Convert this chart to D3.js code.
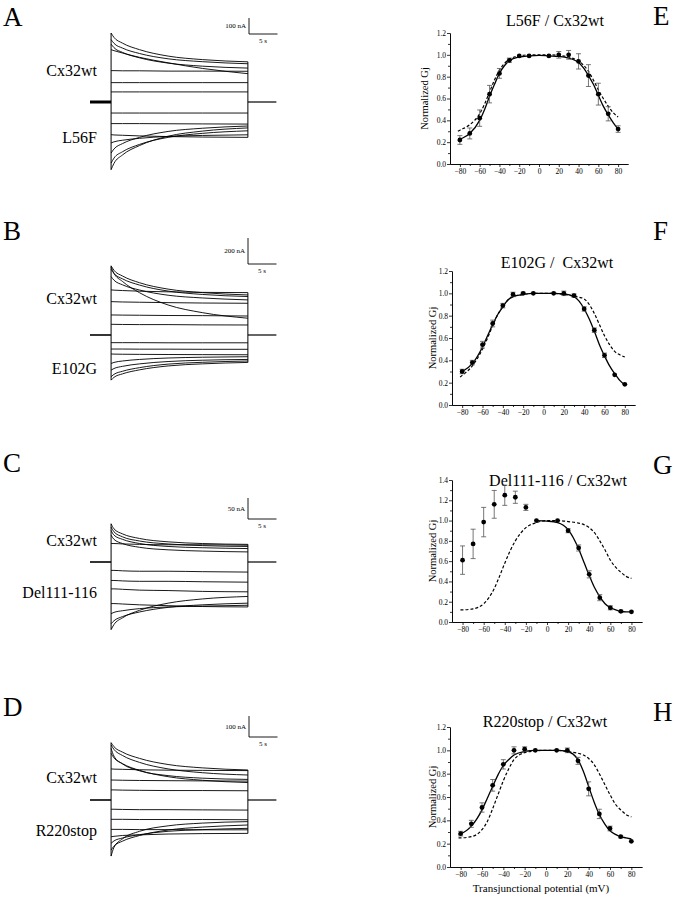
<!DOCTYPE html>
<html><head><meta charset="utf-8">
<script src="https://cdn.jsdelivr.net/npm/d3@7"></script>
<style>body{margin:0;background:#fff}svg{display:block}</style>
</head><body><svg id="c" width="681" height="900"></svg>
<script>
// ---------- DATA ----------
// Left: current traces (nA) sampled at these times (s) into a 24 s pulse
const traceTimes = [0, 0.5, 2, 5, 10, 16, 24];
const pulseDuration = 24;
const scaleBarNA = [100, 200, 50, 100];
const scaleBarSec = 5;
const mutantNames = ["L56F", "E102G", "Del111-116", "R220stop"];
const wtName = "Cx32wt";
const tracesA = [
  [431, 404, 368, 327, 287, 265, 251],
  [390, 367, 337, 303, 270, 252, 239],
  [362, 340, 310, 276, 243, 224, 212],
  [327, 321, 306, 279, 245, 210, 177],
  [196, 196, 195, 195, 193, 193, 192],
  [121, 121, 121, 121, 121, 121, 121],
  [63, 63, 63, 63, 63, 63, 63],
  [-69, -69, -69, -69, -69, -69, -69],
  [-135, -135, -135, -135, -136, -137, -138],
  [-204, -206, -208, -212, -216, -219, -221],
  [-256, -249, -239, -227, -215, -209, -205],
  [-319, -294, -260, -221, -184, -164, -150],
  [-382, -351, -311, -265, -221, -196, -180],
  [-423, -384, -331, -272, -214, -182, -162]
];
const tracesB = [
  [532, 498, 454, 402, 353, 326, 308],
  [506, 474, 432, 384, 338, 312, 296],
  [522, 475, 412, 325, 231, 172, 129],
  [449, 422, 386, 346, 306, 285, 270],
  [347, 345, 342, 337, 332, 328, 326],
  [257, 256, 254, 252, 249, 246, 244],
  [154, 154, 153, 152, 150, 149, 146],
  [82, 82, 81, 80, 80, 78, 77],
  [-59, -59, -59, -59, -60, -60, -60],
  [-108, -108, -108, -109, -109, -110, -110],
  [-146, -147, -148, -149, -150, -151, -152],
  [-219, -211, -200, -188, -177, -171, -167],
  [-270, -258, -241, -222, -204, -194, -188],
  [-321, -303, -279, -251, -224, -210, -200],
  [-347, -326, -299, -268, -238, -222, -211]
];
const tracesC = [
  [91, 79, 67, 56, 48, 44, 42],
  [83, 72, 60, 50, 43, 39, 37],
  [75, 64, 54, 44, 37, 34, 32],
  [64, 54, 44, 35, 29, 26, 24],
  [44, 44, 43, 42, 41, 41, 40],
  [-20, -20, -21, -22, -22, -23, -24],
  [-44, -44, -45, -46, -46, -47, -48],
  [-64, -64, -65, -67, -68, -70, -71],
  [-99, -99, -100, -102, -104, -106, -107],
  [-123, -120, -116, -111, -107, -105, -103],
  [-147, -140, -130, -119, -108, -102, -98],
  [-161, -149, -133, -115, -98, -88, -82]
];
const tracesD = [
  [273, 254, 228, 198, 169, 153, 143],
  [262, 241, 212, 179, 148, 130, 119],
  [246, 209, 172, 139, 116, 104, 98],
  [222, 201, 173, 141, 111, 94, 83],
  [148, 147, 146, 144, 142, 141, 140],
  [95, 95, 94, 93, 92, 91, 90],
  [48, 48, 47, 46, 45, 45, 44],
  [-44, -44, -45, -46, -46, -47, -48],
  [-92, -92, -92, -93, -93, -93, -94],
  [-140, -140, -140, -141, -141, -142, -142],
  [-175, -173, -169, -166, -162, -160, -159],
  [-206, -195, -181, -165, -149, -141, -135],
  [-238, -220, -196, -169, -143, -129, -119],
  [-267, -226, -185, -149, -123, -110, -103]
];

// Right: normalized Gj vs transjunctional potential
const vj = [-80, -70, -60, -50, -40, -30, -20, -10, 10, 20, 30, 40, 50, 60, 70, 80];
const gjE = [0.22, 0.28, 0.42, 0.64, 0.83, 0.95, 0.99, 0.99, 0.99, 1.0, 1.0, 0.94, 0.81, 0.64, 0.46, 0.32];
const errE = [0.04, 0.05, 0.075, 0.08, 0.045, 0.02, 0, 0, 0, 0.03, 0.04, 0.07, 0.1, 0.1, 0.065, 0.03];
const gjF = [0.30, 0.38, 0.54, 0.73, 0.89, 0.99, 1.0, 1.0, 1.0, 1.0, 0.98, 0.86, 0.67, 0.445, 0.27, 0.185];
const errF = [0.02, 0.02, 0.03, 0.03, 0.02, 0.02, 0.01, 0, 0, 0.02, 0.015, 0.02, 0.02, 0.02, 0, 0];
const gjG = [0.61, 0.77, 0.985, 1.16, 1.25, 1.23, 1.13, 1.0, 1.0, 0.9, 0.73, 0.47, 0.24, 0.14, 0.105, 0.10];
const errG = [0.14, 0.145, 0.145, 0.137, 0.1, 0.06, 0.03, 0, 0, 0.02, 0.03, 0.035, 0.03, 0.02, 0.01, 0];
const gjH = [0.286, 0.37, 0.51, 0.70, 0.88, 1.0, 1.01, 1.0, 1.0, 1.0, 0.91, 0.67, 0.455, 0.33, 0.26, 0.22];
const errH = [0.02, 0.03, 0.04, 0.05, 0.04, 0.03, 0.02, 0, 0, 0.02, 0.03, 0.06, 0.04, 0.02, 0.01, 0];

// fitted curves on a common voltage grid
const fitV = [-82, -80, -70, -60, -55, -50, -45, -40, -35, -30, -20, -10, 0, 10, 20, 30, 35, 40, 45, 50, 55, 60, 65, 70, 75, 80];
const solidE = [0.215, 0.225, 0.28, 0.40, 0.50, 0.62, 0.73, 0.83, 0.90, 0.945, 0.98, 0.99, 0.995, 0.99, 0.985, 0.97, 0.955, 0.93, 0.88, 0.81, 0.73, 0.63, 0.53, 0.45, 0.38, 0.32];
const dashE = [0.30, 0.31, 0.36, 0.46, 0.55, 0.66, 0.77, 0.86, 0.92, 0.96, 0.99, 1.0, 1.0, 1.0, 0.995, 0.98, 0.965, 0.945, 0.905, 0.85, 0.77, 0.68, 0.60, 0.53, 0.47, 0.43];
const solidF = [0.29, 0.30, 0.37, 0.52, 0.62, 0.72, 0.81, 0.88, 0.94, 0.97, 0.99, 1.0, 1.0, 1.0, 0.995, 0.97, 0.93, 0.86, 0.77, 0.66, 0.54, 0.44, 0.35, 0.28, 0.22, 0.18];
const dashF = [0.25, 0.265, 0.35, 0.50, 0.60, 0.71, 0.81, 0.88, 0.94, 0.97, 0.99, 1.0, 1.0, 1.0, 0.99, 0.975, 0.965, 0.95, 0.90, 0.82, 0.72, 0.62, 0.54, 0.48, 0.45, 0.43];
const solidG = [null, null, null, null, null, null, null, null, null, null, null, 1.0, 0.995, 0.98, 0.91, 0.72, 0.59, 0.46, 0.34, 0.25, 0.18, 0.14, 0.12, 0.105, 0.10, 0.10];
const dashG = [0.12, 0.12, 0.13, 0.18, 0.24, 0.33, 0.45, 0.58, 0.70, 0.80, 0.93, 0.98, 1.0, 1.0, 0.99, 0.975, 0.96, 0.93, 0.88, 0.80, 0.71, 0.61, 0.54, 0.49, 0.45, 0.43];
const solidH = [0.28, 0.285, 0.35, 0.49, 0.59, 0.69, 0.79, 0.87, 0.92, 0.96, 0.99, 1.0, 1.0, 1.0, 0.99, 0.92, 0.82, 0.69, 0.56, 0.45, 0.37, 0.31, 0.28, 0.26, 0.25, 0.24];
const dashH = [0.25, 0.25, 0.26, 0.32, 0.39, 0.50, 0.62, 0.74, 0.84, 0.92, 0.98, 0.995, 1.0, 1.0, 0.99, 0.975, 0.96, 0.93, 0.88, 0.80, 0.71, 0.62, 0.54, 0.49, 0.45, 0.43];
const titles = ["L56F / Cx32wt", "E102G /  Cx32wt", "Del111-116 / Cx32wt", "R220stop / Cx32wt"];
const xTicks = [-80, -60, -40, -20, 0, 20, 40, 60, 80];
const xMinorTicks = [-70, -50, -30, -10, 10, 30, 50, 70];

// ---------- DRAW ----------
const FONT = '"Liberation Serif"';
const svg = d3.select("#c");
svg.append("rect").attr("width", 681).attr("height", 900).attr("fill", "#fff");
function txt(g, x, y, size, s) {
  return g.append("text").attr("x", x).attr("y", y).attr("font-size", size)
    .style("font-family", FONT).attr("fill", "#000").text(s);
}

// --- left panels ---
const leftLayout = [
  {letter: "A", letterY: 17, base: 102, barPx: 16, bar: [249, 34], wtY: 70, mutY: 137, traces: tracesA, preW: 3},
  {letter: "B", letterY: 231, base: 335, barPx: 26, bar: [248, 264], wtY: 298, mutY: 368, traces: tracesB, preW: 1.6},
  {letter: "C", letterY: 463, base: 562, barPx: 21, bar: [248, 519], wtY: 540, mutY: 592, traces: tracesC, preW: 1.6},
  {letter: "D", letterY: 707, base: 800, barPx: 21, bar: [249, 737], wtY: 777, mutY: 830, traces: tracesD, preW: 1.6}
];
const pxPerSec = 5.7;
const tPre = -3.7, tPost = 29;
leftLayout.forEach((p, i) => {
  const g = svg.append("g");
  const x = d3.scaleLinear().domain([tPre, tPost]).range([90, 90 + (tPost - tPre) * pxPerSec]);
  const y = d3.scaleLinear().domain([0, scaleBarNA[i]]).range([p.base, p.base - p.barPx]);
  txt(g, 3, p.letterY + 9, 27, p.letter);
  txt(g, 97, p.wtY, 16, wtName).attr("dy", "0.35em").attr("text-anchor", "end");
  txt(g, 97, p.mutY, 16, mutantNames[i]).attr("dy", "0.35em").attr("text-anchor", "end");
  g.append("line").attr("x1", x(tPre)).attr("x2", x(0)).attr("y1", y(0)).attr("y2", y(0))
    .attr("stroke", "#000").attr("stroke-width", p.preW);
  g.append("line").attr("x1", x(pulseDuration)).attr("x2", x(tPost)).attr("y1", y(0)).attr("y2", y(0))
    .attr("stroke", "#000").attr("stroke-width", 1.2);
  const starts = p.traces.map(t => t[0]).concat([0]);
  const ends = p.traces.map(t => t[t.length - 1]).concat([0]);
  g.append("line").attr("x1", x(0)).attr("x2", x(0)).attr("y1", y(d3.min(starts))).attr("y2", y(d3.max(starts)))
    .attr("stroke", "#000").attr("stroke-width", 1);
  g.append("line").attr("x1", x(pulseDuration)).attr("x2", x(pulseDuration)).attr("y1", y(d3.min(ends))).attr("y2", y(d3.max(ends)))
    .attr("stroke", "#000").attr("stroke-width", 1);
  const line = d3.line().x(d => x(d[0])).y(d => y(d[1])).curve(d3.curveMonotoneX);
  p.traces.forEach(tr => {
    g.append("path").attr("d", line(traceTimes.map((t, k) => [t, tr[k]])))
      .attr("fill", "none").attr("stroke", "#000").attr("stroke-width", 0.9);
  });
  const [cx, cy] = p.bar;
  g.append("path").attr("d", `M${cx},${cy - p.barPx}V${cy}H${cx + scaleBarSec * pxPerSec}`)
    .attr("fill", "none").attr("stroke", "#000").attr("stroke-width", 0.9);
  txt(g, cx - 3, cy - p.barPx / 2, 7, scaleBarNA[i] + " nA").attr("dy", "0.35em").attr("text-anchor", "end");
  txt(g, cx + 14, cy + 7, 7, scaleBarSec + " s").attr("dy", "0.35em").attr("text-anchor", "middle");
});

// --- right panels ---
const rightLayout = [
  {letter: "E", letterY: 16, x0: 450, x1: 628, y0: 164, yTop: 33, yMax: 1.2, titleX: 555, titleY: 20, ylabX: 424, gj: gjE, err: errE, solid: solidE, dash: dashE},
  {letter: "F", letterY: 231, x0: 452, x1: 635, y0: 405, yTop: 271, yMax: 1.2, titleX: 557, titleY: 262, ylabX: 432, gj: gjF, err: errF, solid: solidF, dash: dashF},
  {letter: "G", letterY: 465, x0: 452, x1: 642, y0: 622, yTop: 480, yMax: 1.4, titleX: 558, titleY: 480, ylabX: 432, gj: gjG, err: errG, solid: solidG, dash: dashG},
  {letter: "H", letterY: 712, x0: 450, x1: 642, y0: 867, yTop: 727, yMax: 1.2, titleX: 545, titleY: 721, ylabX: 432, gj: gjH, err: errH, solid: solidH, dash: dashH, xlabel: "Transjunctional potential (mV)"}
];
rightLayout.forEach((p, i) => {
  const g = svg.append("g");
  const x = d3.scaleLinear().domain([-90, 90]).range([p.x0, p.x1]);
  const y = d3.scaleLinear().domain([0, p.yMax]).range([p.y0, p.yTop]);
  txt(g, 653, p.letterY + 9, 27, p.letter);
  txt(g, p.titleX, p.titleY, 16, titles[i]).attr("dy", "0.35em").attr("text-anchor", "middle")
    .style("white-space", "pre");
  const yMajor = d3.range(0, p.yMax + 0.001, 0.2);
  const yMinor = d3.range(0.1, p.yMax, 0.2);
  const ya = g.append("g").attr("transform", `translate(${p.x0},0)`)
    .call(d3.axisLeft(y).tickValues(yMajor).tickFormat(d3.format(".1f")).tickSize(3).tickSizeOuter(0));
  g.append("g").attr("transform", `translate(${p.x0},0)`)
    .call(d3.axisLeft(y).tickValues(yMinor).tickFormat("").tickSize(2).tickSizeOuter(0));
  const xa = g.append("g").attr("transform", `translate(0,${p.y0})`)
    .call(d3.axisBottom(x).tickValues(xTicks).tickFormat(d3.format("d")).tickSize(3).tickSizeOuter(0));
  g.append("g").attr("transform", `translate(0,${p.y0})`)
    .call(d3.axisBottom(x).tickValues(xMinorTicks).tickFormat("").tickSize(2).tickSizeOuter(0));
  g.selectAll(".domain, .tick line").attr("stroke", "#000").attr("stroke-width", 0.8);
  g.selectAll(".tick text").style("font-family", FONT).attr("font-size", 7.5).attr("fill", "#000");
  ya.selectAll(".tick text").attr("x", -4);
  xa.selectAll(".tick text").attr("y", 5);
  txt(g, 0, 0, 10.5, "Normalized Gj")
    .attr("transform", `translate(${p.ylabX},${(p.y0 + p.yTop) / 2}) rotate(-90)`)
    .attr("dy", "0.35em").attr("text-anchor", "middle");
  if (p.xlabel) {
    txt(g, (p.x0 + p.x1) / 2 - 5, p.y0 + 21, 11, p.xlabel).attr("dy", "0.35em").attr("text-anchor", "middle");
  }
  const line = d3.line().defined(d => d[1] != null).x(d => x(d[0])).y(d => y(d[1])).curve(d3.curveMonotoneX);
  g.append("path").attr("d", line(fitV.map((v, k) => [v, p.dash[k]])))
    .attr("fill", "none").attr("stroke", "#000").attr("stroke-width", 1.2).attr("stroke-dasharray", "3,2");
  g.append("path").attr("d", line(fitV.map((v, k) => [v, p.solid[k]])))
    .attr("fill", "none").attr("stroke", "#000").attr("stroke-width", 1.3);
  vj.forEach((v, k) => {
    const e = p.err[k];
    if (e > 0) {
      const cxp = x(v);
      g.append("path").attr("d",
        `M${cxp},${y(p.gj[k] - e)}V${y(p.gj[k] + e)}M${cxp - 2.5},${y(p.gj[k] - e)}H${cxp + 2.5}M${cxp - 2.5},${y(p.gj[k] + e)}H${cxp + 2.5}`)
        .attr("fill", "none").attr("stroke", "#555").attr("stroke-width", 0.8);
    }
  });
  g.selectAll("circle.pt").data(vj).enter().append("circle").attr("class", "pt")
    .attr("cx", v => x(v)).attr("cy", (v, k) => y(p.gj[k])).attr("r", 2.4).attr("fill", "#000");
});
</script></body></html>
